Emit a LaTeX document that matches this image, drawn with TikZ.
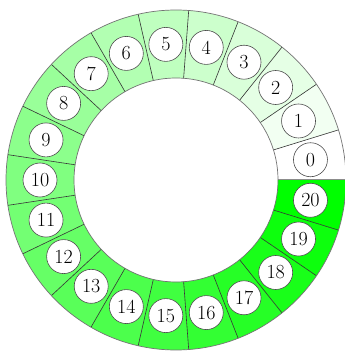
\documentclass[tikz,border=0pt]{standalone}
\begin{document}
\begin{tikzpicture}[x=1pt,y=1pt,
  radial/.style={draw=black!80, line width=0.6pt},
  rim/.style={draw=black!55, line width=0.7pt},
  lab/.style={circle, draw=black!70, fill=white, minimum size=34pt, inner sep=0pt,
              line width=0.6pt, font=\fontsize{20}{20}\selectfont}]
\useasboundingbox (0,0) rectangle (345,351);
\begin{scope}
\clip (0,0) rectangle (345,351);
\begin{scope}[shift={(176,171)}]
\foreach \k in {0,...,20} {
  \pgfmathsetmacro\a{\k*360/21}
  \pgfmathsetmacro\b{(\k+1)*360/21}
  \pgfmathtruncatemacro\p{5*\k}
  \fill[green!\p!white] (\a:102) -- (\a:170) arc[start angle=\a, end angle=\b, radius=170]
     -- (\b:102) arc[start angle=\b, end angle=\a, radius=102] -- cycle;
}
\foreach \k in {1,...,20} {
  \pgfmathsetmacro\a{\k*360/21}
  \draw[radial] (\a:102) -- (\a:170);
}
\draw[draw=black!45, line width=1pt] (0:102) -- (0:170);
\draw[rim] (0,0) circle[radius=170];
\draw[rim] (0,0) circle[radius=102];
\foreach \k in {0,...,20} {
  \pgfmathsetmacro\m{(\k+0.5)*360/21}
  \node[lab] (n\k) at (\m:136) {\k};
}
\end{scope}
\end{scope}
\end{tikzpicture}
\end{document}
